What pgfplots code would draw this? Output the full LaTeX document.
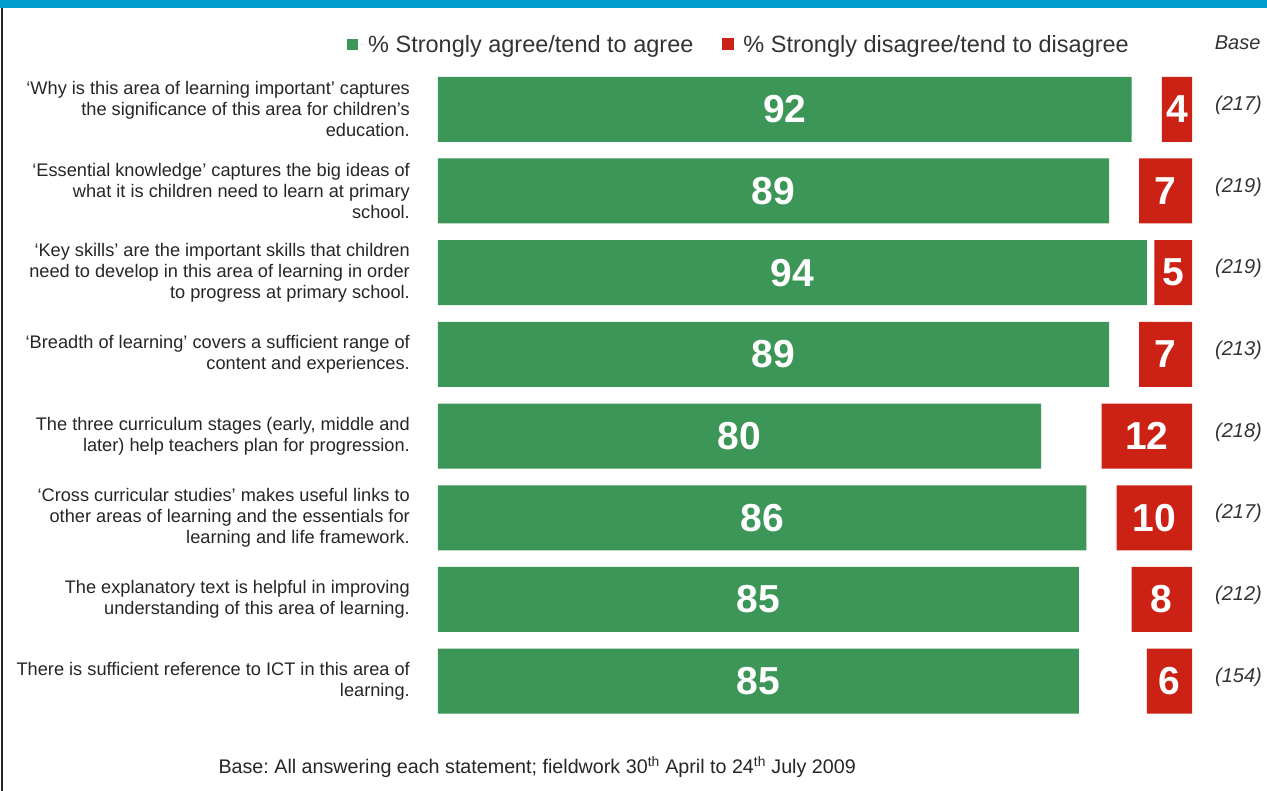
\documentclass[border=0pt]{standalone}
\usepackage{pgfplots}
\pgfplotsset{compat=1.18}
\usepackage{pgfplotstable}
\usepackage{fontspec}
\setmainfont{Liberation Sans}
\frenchspacing
\definecolor{agreegreen}{HTML}{3C9657}
\definecolor{disred}{HTML}{CC2216}
\definecolor{band}{HTML}{009DCE}
\definecolor{txt}{HTML}{262626}
\definecolor{legtxt}{HTML}{333333}

\pgfplotstableread{
idx agree disagree
0 92 4
1 89 7
2 94 5
3 89 7
4 80 12
5 86 10
6 85 8
7 85 6
}\data

\begin{document}
\begin{tikzpicture}[x=1pt,y=1pt]
\useasboundingbox (0,0) rectangle (1267,-791);
\fill[white] (0,0) rectangle (1267,-791);
\fill[band] (0,0) rectangle (1267,-8);
\draw[line width=2pt, black!85] (2,-8) -- (2,-791);

\begin{axis}[
  at={(438pt,-722pt)}, anchor=south west,
  scale only axis, width=754pt, height=653.6pt,
  xmin=0, xmax=100, ymin=-0.5, ymax=7.5, y dir=reverse,
  axis line style={draw=none}, tick style={draw=none}, major tick length=0pt,
  xtick=\empty, ytick={0,1,2,3,4,5,6,7},
  yticklabels={
    {‘Why is this area of learning important’ captures\\the significance of this area for children’s\\education.},
    {‘Essential knowledge’ captures the big ideas of\\what it is children need to learn at primary\\school.},
    {‘Key skills’ are the important skills that children\\need to develop in this area of learning in order\\to progress at primary school.},
    {‘Breadth of learning’ covers a sufficient range of\\content and experiences.},
    {The three curriculum stages (early, middle and\\later) help teachers plan for progression.},
    {‘Cross curricular studies’ makes useful links to\\other areas of learning and the essentials for\\learning and life framework.},
    {The explanatory text is helpful in improving\\understanding of this area of learning.},
    {There is sufficient reference to ICT in this area of\\learning.}},
  yticklabel style={align=right, anchor=east, inner sep=0pt, xshift=-28pt,
    font=\fontsize{18.2}{21}\selectfont, text=txt},
  legend columns=2,
  legend style={at={(-0.1207,1.0367)}, anchor=west, draw=none, fill=none,
    inner sep=0pt, font=\fontsize{23.5}{24}\selectfont, text=legtxt,
    /tikz/every even column/.append style={column sep=27pt}},
]
\addplot[xbar, bar width=65pt, bar shift=0pt, fill=agreegreen, draw=none,
  legend image code/.code={\fill[agreegreen, draw=none] (0pt,-5.5pt) rectangle (11pt,5.5pt); \path[draw=none] (0pt,0pt) -- (19pt,0pt);}]
  table[x=agree, y=idx]{\data};
\addlegendentry{\% Strongly agree/tend to agree}
\addlegendimage{draw=none, legend image code/.code={\fill[disred, draw=none] (0pt,-6pt) rectangle (12pt,6pt); \path[draw=none] (0pt,0pt) -- (19pt,0pt);}}
\addlegendentry{\% Strongly disagree/tend to disagree}
\addplot[draw=none, forget plot, nodes near coords, point meta=explicit symbolic,
  nodes near coords style={anchor=center, text=white, font=\bfseries\fontsize{39}{39}\selectfont}]
  table[x expr=\thisrow{agree}/2, y=idx, meta=agree]{\data};
\end{axis}

\begin{axis}[
  at={(438pt,-722pt)}, anchor=south west,
  scale only axis, width=754pt, height=653.6pt,
  xmin=0, xmax=100, x dir=reverse, ymin=-0.5, ymax=7.5, y dir=reverse,
  axis line style={draw=none}, tick style={draw=none}, major tick length=0pt,
  xtick=\empty, ytick={0,1,2,3,4,5,6,7},
  yticklabel pos=right,
  yticklabels={(217),(219),(219),(213),(218),(217),(212),(154)},
  yticklabel style={anchor=west, inner sep=0pt, xshift=23pt, yshift=4pt,
    font=\itshape\fontsize{20}{20}\selectfont, text=legtxt},
]
\addplot[xbar, bar width=65pt, bar shift=0pt, fill=disred, draw=none]
  table[x=disagree, y=idx]{\data};
\addplot[draw=none, nodes near coords, point meta=explicit symbolic,
  nodes near coords style={anchor=center, text=white, font=\bfseries\fontsize{39}{39}\selectfont}]
  table[x expr=\thisrow{disagree}/2, y=idx, meta=disagree]{\data};
\end{axis}

\node[anchor=east, font=\itshape\fontsize{20}{20}\selectfont, text=legtxt] at (1264,-43) {Base};
\node[anchor=west, font=\fontsize{19.7}{19.7}\selectfont, text=txt] at (215,-767)
  {Base: All answering each statement; fieldwork 30\textsuperscript{th} April to 24\textsuperscript{th} July 2009};
\end{tikzpicture}
\end{document}
